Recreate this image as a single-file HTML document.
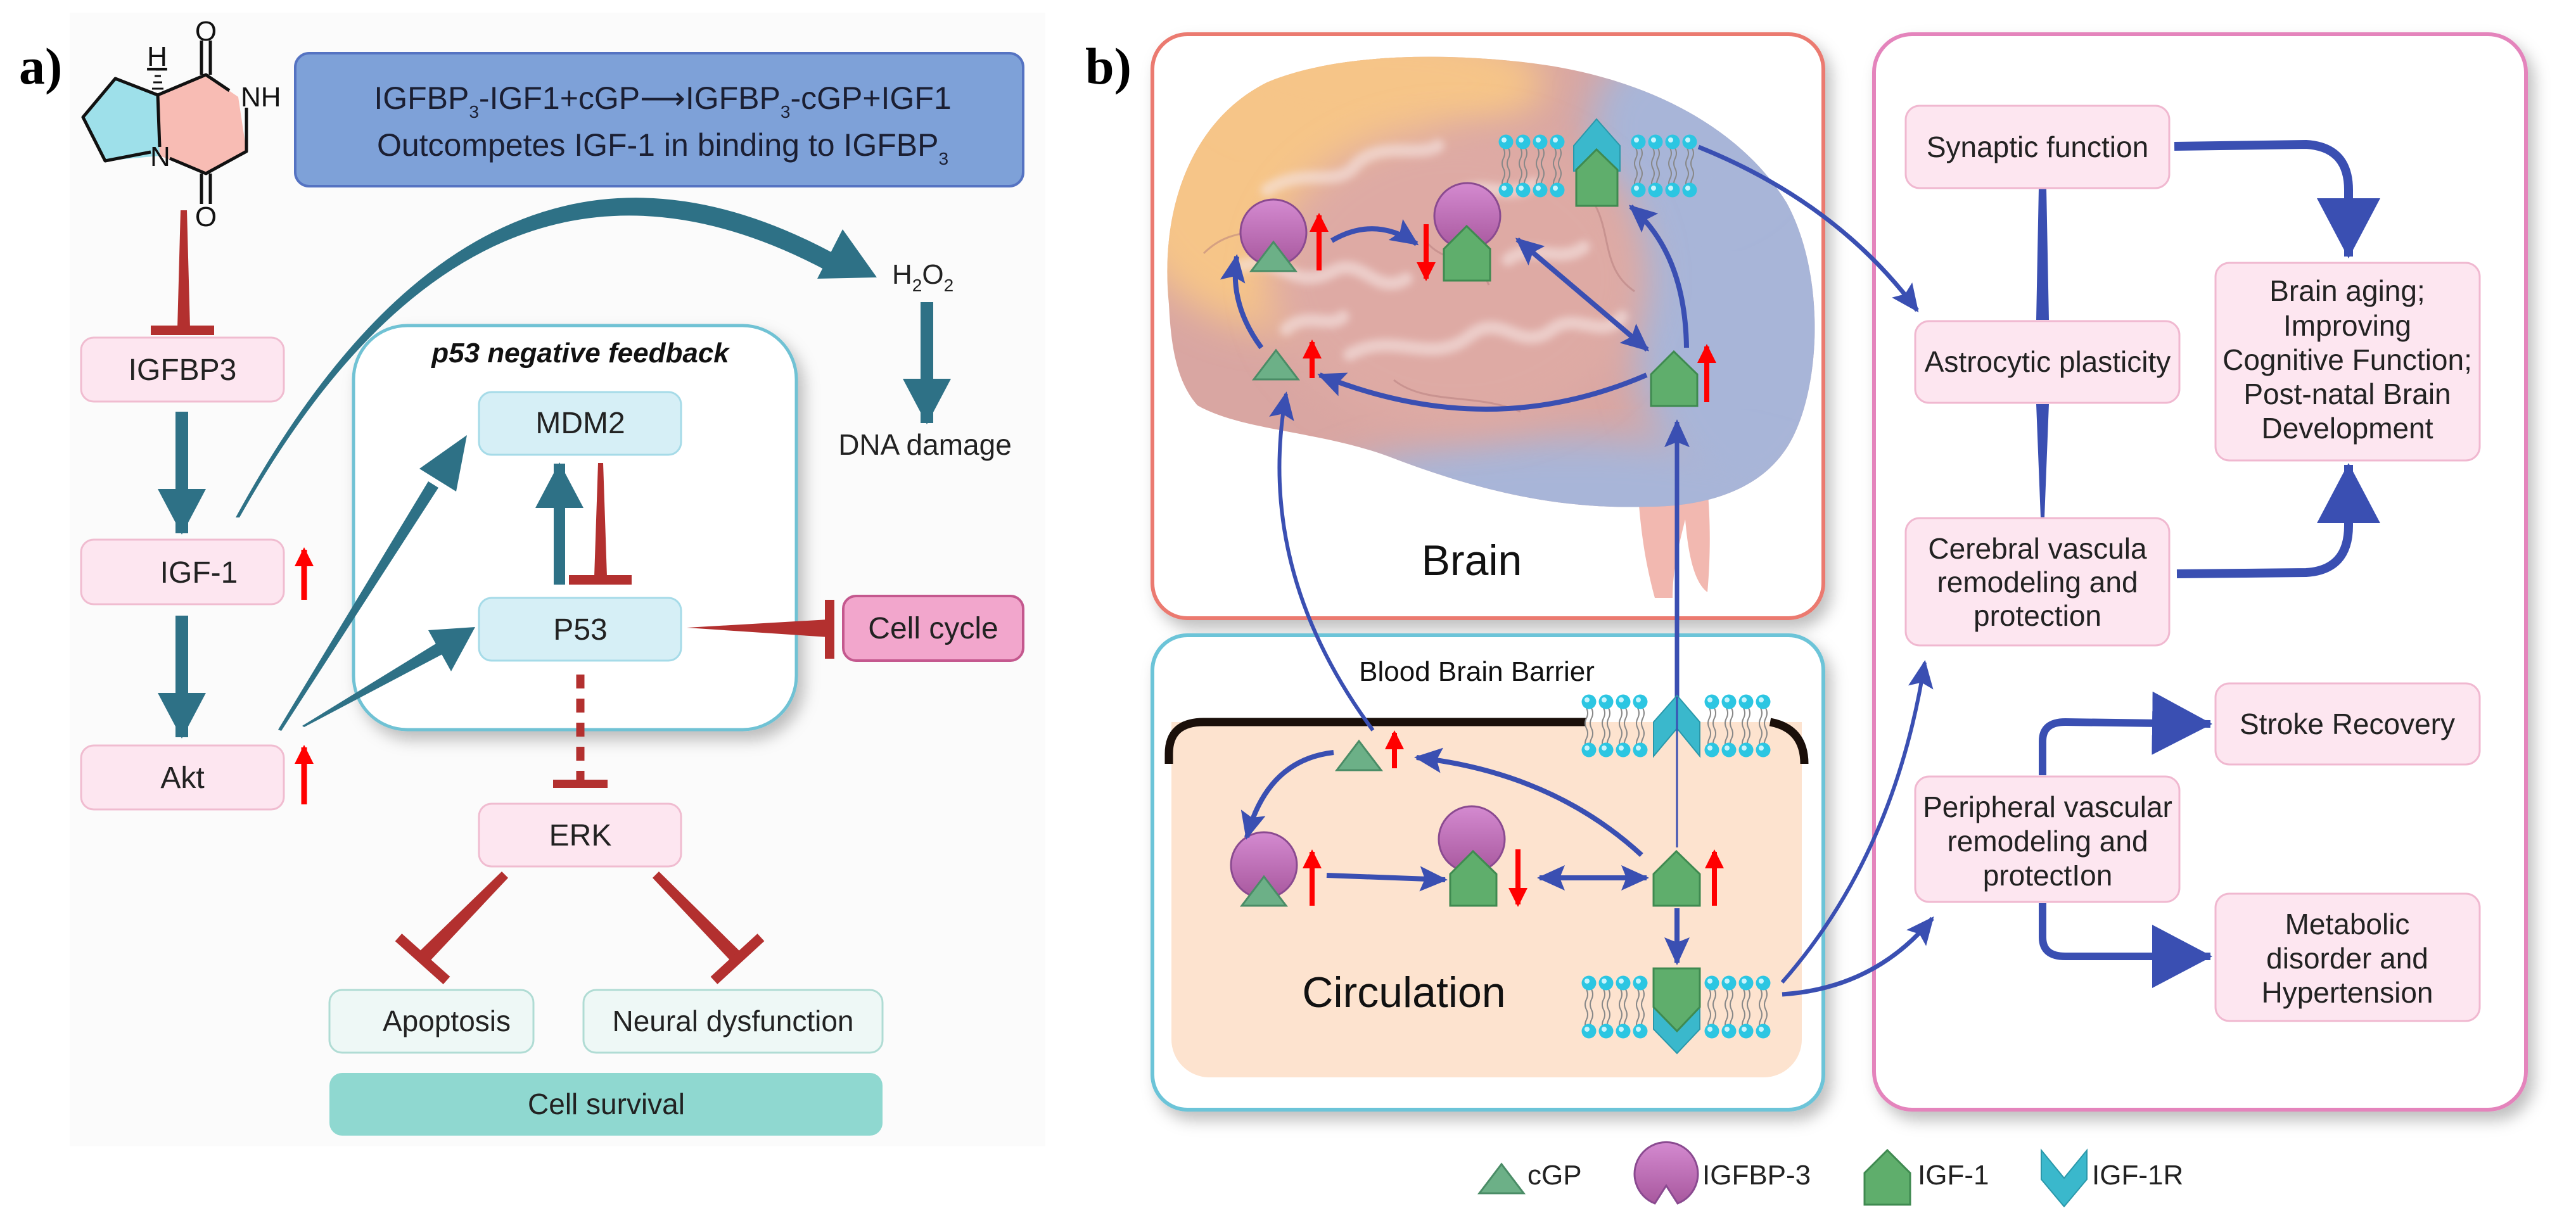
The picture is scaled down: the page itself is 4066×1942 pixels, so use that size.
<!DOCTYPE html>
<html><head><meta charset="utf-8"><style>
html,body{margin:0;padding:0;background:#fff;}
svg{display:block;font-family:"Liberation Sans",Arial,sans-serif;}
.n{font-family:"Liberation Sans Narrow","Liberation Sans",sans-serif;}
</style></head><body>
<svg width="4066" height="1942" viewBox="0 0 4066 1942" xmlns="http://www.w3.org/2000/svg">
<defs>
<filter id="sh" x="-10%" y="-10%" width="125%" height="125%"><feDropShadow dx="10" dy="14" stdDeviation="12" flood-color="#000" flood-opacity="0.25"/></filter>
<filter id="blur" x="-20%" y="-20%" width="140%" height="140%"><feGaussianBlur stdDeviation="30"/></filter>
<filter id="blur2"><feGaussianBlur stdDeviation="6"/></filter>
<marker id="tH" markerUnits="userSpaceOnUse" markerWidth="80" markerHeight="80" viewBox="0 0 80 80" refX="70" refY="40" orient="auto"><path d="M0,2 L72,40 L0,78 Z" fill="#2e7186"/></marker>
<marker id="bH" markerUnits="userSpaceOnUse" markerWidth="44" markerHeight="40" viewBox="0 0 44 40" refX="40" refY="20" orient="auto-start-reverse"><path d="M0,0 L44,20 L0,40 L8,20 Z" fill="#3a4fb2"/></marker>
<marker id="bB" markerUnits="userSpaceOnUse" markerWidth="100" markerHeight="100" viewBox="0 0 100 100" refX="92" refY="50" orient="auto"><path d="M0,0 L95,50 L0,100 Z" fill="#3a4fb2"/></marker>
<marker id="rH" markerUnits="userSpaceOnUse" markerWidth="30" markerHeight="30" viewBox="0 0 30 30" refX="26" refY="15" orient="auto"><path d="M0,0 L30,15 L0,30 Z" fill="#ff0000"/></marker>
<g id="lp"><path d="M-4,10 q4,8 0,16 q-4,8 0,16 q4,8 0,16 q-4,8 0,16 M4,10 q4,8 0,16 q-4,8 0,16 q4,8 0,16 q-4,8 0,16" stroke="#888" stroke-width="2" fill="none"/><circle cx="0" cy="0" r="11.5" fill="#2cc6e2"/><circle cx="-3" cy="-3" r="4" fill="#c8f4fc"/><circle cx="0" cy="76" r="11.5" fill="#2cc6e2"/><circle cx="-3" cy="73" r="4" fill="#c8f4fc"/></g>
<g id="lp4"><use href="#lp" x="0"/><use href="#lp" x="27"/><use href="#lp" x="54"/><use href="#lp" x="81"/></g>
<g id="house"><path d="M0,86 L0,36 L36,0 L73,36 L73,86 Z" fill="#5fae6c" stroke="#3f8a50" stroke-width="3"/></g>
<g id="tri"><path d="M0,46 L35,0 L70,46 Z" fill="#6cb087" stroke="#4a8c66" stroke-width="3"/></g>
<linearGradient id="pg" x1="0" y1="0" x2="0" y2="1"><stop offset="0" stop-color="#d48ad0"/><stop offset="1" stop-color="#a8589e"/></linearGradient>
<clipPath id="bc"><path d="M1845,480 C1830,330 1880,190 2000,130 C2120,80 2300,85 2420,100 C2580,120 2740,190 2820,320 C2880,430 2875,600 2830,690 C2790,770 2700,800 2600,800 C2450,805 2320,770 2190,720 C2080,680 1960,680 1890,640 C1855,600 1848,540 1845,480 Z"/></clipPath>
</defs>

<!-- ============ PANEL A ============ -->
<rect x="110" y="20" width="1540" height="1790" fill="#fbfbfb"/>
<text x="30" y="132" font-family="Liberation Serif,serif" font-weight="bold" font-size="82">a)</text>

<path d="M131,185 L182,124 L249,150 L252,246 L166,254 Z" fill="#9ee0ea"/>
<path d="M249,150 L325,118 L376,153 L389,239 L325,274 L252,246 Z" fill="#f8bcb4"/>
<g stroke="#111" stroke-width="5" fill="none" stroke-linejoin="round">
<path d="M238,240 L166,254 L131,185 L182,124 L249,150 L252,232"/>
<path d="M249,150 L325,118 L362,143 M389,170 L389,239 L325,274 L268,250"/>
<path d="M318,118 L318,64 M332,118 L332,64 M318,274 L318,322 M332,274 L332,322"/>
</g>
<g stroke="#111" stroke-width="3"><line x1="240" y1="140" x2="258" y2="140"/><line x1="242" y1="130" x2="256" y2="130"/><line x1="244" y1="120" x2="254" y2="120"/><line x1="246" y1="110" x2="252" y2="110"/></g>
<g font-size="44" fill="#111"><text x="325" y="64" text-anchor="middle">O</text><text x="325" y="357" text-anchor="middle">O</text><text x="380" y="168">NH</text><text x="237" y="262">N</text><text x="248" y="104" text-anchor="middle" text-decoration="underline">H</text></g>

<rect x="466" y="84" width="1149" height="210" rx="22" fill="#7ea1d8" stroke="#5573c2" stroke-width="4"/>
<text x="1046" y="172" text-anchor="middle" font-size="50" fill="#1b1f33">IGFBP<tspan font-size="28" dy="14">3</tspan><tspan dy="-14">-IGF1+cGP</tspan><tspan>⟶</tspan>IGFBP<tspan font-size="28" dy="14">3</tspan><tspan dy="-14">-cGP+IGF1</tspan></text>
<text x="1046" y="246" text-anchor="middle" font-size="50" fill="#1b1f33">Outcompetes IGF-1 in binding to IGFBP<tspan font-size="28" dy="14">3</tspan></text>

<path d="M372,817 Q760,104 1312,398 L1306,428 Q760,136 378,817 Z" fill="#2e7186"/>
<path d="M1384,438 L1290,440 L1330,362 Z" fill="#2e7186"/>
<text x="1408" y="448" font-size="44" fill="#222">H<tspan font-size="28" dy="12">2</tspan><tspan dy="-12">O</tspan><tspan font-size="28" dy="12">2</tspan></text>
<line x1="1463" y1="477" x2="1463" y2="668" stroke="#2e7186" stroke-width="20" marker-end="url(#tH)"/>
<text x="1460" y="718" text-anchor="middle" font-size="46" fill="#222">DNA damage</text>

<rect x="558" y="514" width="699" height="638" rx="85" fill="#fff" stroke="#70c2d4" stroke-width="5" filter="url(#sh)"/>
<text x="916" y="572" text-anchor="middle" font-size="44" font-weight="bold" font-style="italic" fill="#111">p53 negative feedback</text>
<rect x="756" y="619" width="319" height="99" rx="20" fill="#d6eff6" stroke="#a6dbe8" stroke-width="3"/>
<text x="916" y="684" text-anchor="middle" font-size="48" fill="#222">MDM2</text>
<rect x="756" y="944" width="319" height="99" rx="20" fill="#d6eff6" stroke="#a6dbe8" stroke-width="3"/>
<text x="916" y="1010" text-anchor="middle" font-size="48" fill="#222">P53</text>
<rect x="756" y="1269" width="319" height="99" rx="20" fill="#fde6f0" stroke="#f0bcd0" stroke-width="3"/>
<text x="916" y="1335" text-anchor="middle" font-size="48" fill="#222">ERK</text>

<rect x="128" y="533" width="320" height="101" rx="20" fill="#fde6f0" stroke="#f0bcd0" stroke-width="3"/>
<text x="288" y="600" text-anchor="middle" font-size="48" fill="#222">IGFBP3</text>
<rect x="128" y="852" width="320" height="102" rx="20" fill="#fde6f0" stroke="#f0bcd0" stroke-width="3"/>
<text x="314" y="920" text-anchor="middle" font-size="48" fill="#222">IGF-1</text>
<rect x="128" y="1177" width="320" height="101" rx="20" fill="#fde6f0" stroke="#f0bcd0" stroke-width="3"/>
<text x="288" y="1244" text-anchor="middle" font-size="48" fill="#222">Akt</text>
<line x1="480" y1="947" x2="480" y2="868" stroke="#ff0000" stroke-width="9" marker-end="url(#rH)"/>
<line x1="480" y1="1270" x2="480" y2="1180" stroke="#ff0000" stroke-width="9" marker-end="url(#rH)"/>

<path d="M285,332 L295,332 L300,518 L280,518 Z" fill="#b3302f"/>
<rect x="238" y="514" width="100" height="15" fill="#b3302f"/>
<line x1="287" y1="650" x2="287" y2="842" stroke="#2e7186" stroke-width="20" marker-end="url(#tH)"/>
<line x1="287" y1="972" x2="287" y2="1164" stroke="#2e7186" stroke-width="20" marker-end="url(#tH)"/>
<path d="M439,1152 L676,760 L692,770 L444,1154 Z" fill="#2e7186"/>
<path d="M737,687 L662,740 L720,776 Z" fill="#2e7186"/>
<path d="M477,1146 L690,1015 L700,1032 L480,1148 Z" fill="#2e7186"/>
<path d="M750,990 L676,995 L712,1060 Z" fill="#2e7186"/>
<line x1="883" y1="923" x2="883" y2="732" stroke="#2e7186" stroke-width="18" marker-end="url(#tH)"/>
<path d="M944,731 L952,731 L958,910 L938,910 Z" fill="#b3302f"/>
<rect x="898" y="908" width="99" height="15" fill="#b3302f"/>
<path d="M1084,991 L1308,978 L1308,1006 Z" fill="#b3302f"/>
<rect x="1302" y="947" width="15" height="93" fill="#b3302f"/>
<rect x="1331" y="941" width="284" height="102" rx="20" fill="#f2a6cc" stroke="#c4588e" stroke-width="4"/>
<text x="1473" y="1008" text-anchor="middle" font-size="48" fill="#222">Cell cycle</text>
<line x1="916" y1="1065" x2="916" y2="1232" stroke="#b3302f" stroke-width="13" stroke-dasharray="22,16"/>
<rect x="873" y="1231" width="86" height="13" fill="#b3302f"/>
<path d="M792,1376 L802,1386 L676,1520 L658,1506 Z" fill="#b3302f"/>
<path d="M629,1480 L705,1548" stroke="#b3302f" stroke-width="16"/>
<path d="M1030,1386 L1040,1376 L1172,1506 L1156,1520 Z" fill="#b3302f"/>
<path d="M1127,1548 L1201,1480" stroke="#b3302f" stroke-width="16"/>
<rect x="520" y="1563" width="322" height="99" rx="20" fill="#eef8f6" stroke="#b0dcd4" stroke-width="3"/>
<text x="705" y="1628" text-anchor="middle" font-size="46" fill="#222">Apoptosis</text>
<rect x="921" y="1563" width="472" height="99" rx="20" fill="#eef8f6" stroke="#b0dcd4" stroke-width="3"/>
<text x="1157" y="1628" text-anchor="middle" font-size="46" fill="#222">Neural dysfunction</text>
<rect x="520" y="1694" width="873" height="99" rx="20" fill="#8fd8d0"/>
<text x="957" y="1759" text-anchor="middle" font-size="46" fill="#222">Cell survival</text>

<!-- ============ PANEL B ============ -->
<text x="1713" y="132" font-family="Liberation Serif,serif" font-weight="bold" font-size="82">b)</text>

<rect x="1819" y="54" width="1059" height="922" rx="55" fill="#fff" stroke="#eb7a70" stroke-width="6" filter="url(#sh)"/>
<rect x="2958" y="54" width="1029" height="1698" rx="60" fill="#fff" stroke="#e484bc" stroke-width="6" filter="url(#sh)"/>

<path d="M2585,770 C2590,850 2600,900 2612,944 L2640,944 C2640,900 2650,860 2660,820 C2665,880 2675,920 2695,935 C2700,880 2700,820 2695,770 Z" fill="#f2b8b0"/>
<g clip-path="url(#bc)">
<rect x="1800" y="60" width="1100" height="800" fill="#d9a6a2"/>
<ellipse cx="2020" cy="260" rx="260" ry="260" fill="#f6c588" filter="url(#blur)"/>
<ellipse cx="2180" cy="130" rx="260" ry="90" fill="#f6c588" filter="url(#blur)"/>
<ellipse cx="2760" cy="420" rx="200" ry="380" fill="#a8b5d8" filter="url(#blur)"/>
<ellipse cx="2480" cy="800" rx="420" ry="110" fill="#a8b5d8" filter="url(#blur)"/>
<ellipse cx="2660" cy="200" rx="150" ry="140" fill="#a8b5d8" filter="url(#blur)"/>
<ellipse cx="2300" cy="440" rx="300" ry="240" fill="#deaaa4" filter="url(#blur)"/>
<g stroke="#f6e6e4" stroke-width="20" fill="none" stroke-linecap="round" opacity="0.6" filter="url(#blur2)">
<path d="M2000,300 C2060,260 2110,300 2140,260 C2180,220 2240,250 2270,230"/>
<path d="M1960,420 C2020,400 2040,460 2100,430 C2150,400 2170,470 2220,440"/>
<path d="M2130,560 C2200,520 2260,580 2320,530 C2370,490 2400,560 2450,520 C2490,490 2530,540 2560,500"/>
<path d="M2030,520 C2060,490 2100,520 2120,500"/>
<path d="M2380,410 C2420,380 2460,420 2500,390"/>
<path d="M2300,310 C2340,280 2380,320 2420,290"/>
</g>
<g stroke="#b47c7c" stroke-width="3" fill="none" opacity="0.5">
<path d="M1900,400 C1950,350 2000,380 2050,340 M2200,600 C2250,640 2330,620 2400,650 M2500,300 C2550,350 2520,420 2580,460 M2250,380 C2280,420 2330,400 2350,450"/>
</g>
</g>
<text x="2323" y="908" text-anchor="middle" font-size="68" fill="#111">Brain</text>

<use href="#lp4" x="2377" y="224"/>
<use href="#lp4" x="2586" y="224"/>
<path d="M2484,270 L2484,230 L2520,188 L2557,230 L2557,270 Z" fill="#3ab8cc" stroke="#2a98aa" stroke-width="2"/>
<path d="M2488,325 L2488,268 L2520,236 L2553,268 L2553,325 Z" fill="#5fae6c" stroke="#3f8a50" stroke-width="3"/>

<circle cx="2010" cy="367" r="52" fill="url(#pg)" stroke="#8a4a90" stroke-width="3"/>
<use href="#tri" x="1975" y="382"/>
<circle cx="2316" cy="341" r="52" fill="url(#pg)" stroke="#8a4a90" stroke-width="3"/>
<use href="#house" x="2279" y="357"/>
<use href="#house" x="2606" y="555"/>
<use href="#tri" x="1979" y="553"/>
<line x1="2082" y1="427" x2="2082" y2="340" stroke="#ff0000" stroke-width="8" marker-end="url(#rH)"/>
<line x1="2251" y1="354" x2="2251" y2="440" stroke="#ff0000" stroke-width="8" marker-end="url(#rH)"/>
<line x1="2694" y1="635" x2="2694" y2="547" stroke="#ff0000" stroke-width="8" marker-end="url(#rH)"/>
<line x1="2071" y1="597" x2="2071" y2="540" stroke="#ff0000" stroke-width="8" marker-end="url(#rH)"/>

<rect x="1819" y="1003" width="1059" height="749" rx="55" fill="#fff" stroke="#6cc4d8" stroke-width="6" filter="url(#sh)"/>
<rect x="1849" y="1140" width="995" height="561" rx="60" fill="#fde3cf"/>
<rect x="1849" y="1140" width="995" height="70" fill="#fde3cf"/>
<path d="M1845,1206 L1845,1190 Q1845,1140 1900,1140 L2503,1140" stroke="#1a0f0a" stroke-width="13" fill="none"/>
<path d="M2794,1140 Q2848,1150 2848,1206" stroke="#1a0f0a" stroke-width="13" fill="none"/>
<text x="2331" y="1075" text-anchor="middle" font-size="44" fill="#111">Blood Brain Barrier</text>

<g stroke="#3a4fb2" fill="none" stroke-width="8">
<path d="M2102,380 Q2170,340 2236,385" marker-end="url(#bH)"/>
<path d="M2395,378 L2600,552" marker-start="url(#bH)" marker-end="url(#bH)"/>
<path d="M2599,592 Q2350,700 2083,592" marker-end="url(#bH)"/>
<path d="M1991,549 Q1940,480 1952,405" marker-end="url(#bH)"/>
<path d="M2662,549 Q2660,400 2574,326" marker-end="url(#bH)"/>
<path d="M2681,232 Q2900,320 3026,490" stroke-width="7" marker-end="url(#bH)"/>
<path d="M2167,1153 Q1980,900 2030,622" stroke-width="6" marker-end="url(#bH)"/>
<path d="M2647,1100 L2647,666" stroke-width="7" marker-end="url(#bH)"/>
</g>

<use href="#lp4" x="2508" y="1108"/>
<use href="#lp4" x="2702" y="1108"/>
<path d="M2647,1098 L2683,1140 L2683,1194 L2647,1150 L2610,1194 L2610,1140 Z" fill="#3ab8cc" stroke="#2a98aa" stroke-width="2"/>
<line x1="2647" y1="1338" x2="2647" y2="1100" stroke="#3a4fb2" stroke-width="3"/>

<use href="#tri" x="2110" y="1170"/>
<line x1="2201" y1="1213" x2="2201" y2="1157" stroke="#ff0000" stroke-width="8" marker-end="url(#rH)"/>
<circle cx="1995" cy="1366" r="52" fill="url(#pg)" stroke="#8a4a90" stroke-width="3"/>
<use href="#tri" x="1960" y="1384"/>
<line x1="2071" y1="1430" x2="2071" y2="1345" stroke="#ff0000" stroke-width="8" marker-end="url(#rH)"/>
<circle cx="2323" cy="1325" r="52" fill="url(#pg)" stroke="#8a4a90" stroke-width="3"/>
<use href="#house" x="2289" y="1344"/>
<line x1="2396" y1="1341" x2="2396" y2="1428" stroke="#ff0000" stroke-width="8" marker-end="url(#rH)"/>
<use href="#house" x="2610" y="1344"/>
<line x1="2706" y1="1430" x2="2706" y2="1345" stroke="#ff0000" stroke-width="8" marker-end="url(#rH)"/>
<g stroke="#3a4fb2" fill="none" stroke-width="8">
<path d="M2591,1350 Q2450,1220 2236,1196" marker-end="url(#bH)"/>
<path d="M2105,1188 Q2000,1200 1968,1322" marker-end="url(#bH)"/>
<path d="M2094,1382 L2281,1389" marker-end="url(#bH)"/>
<path d="M2430,1386 L2599,1386" marker-start="url(#bH)" marker-end="url(#bH)"/>
<path d="M2647,1434 L2647,1520" marker-end="url(#bH)"/>
<path d="M2813,1551 Q2990,1350 3038,1046" stroke-width="6" marker-end="url(#bH)"/>
<path d="M2813,1570 Q2960,1560 3050,1450" stroke-width="7" marker-end="url(#bH)"/>
</g>
<use href="#lp4" x="2508" y="1552"/>
<use href="#lp4" x="2702" y="1552"/>
<path d="M2610,1585 L2647,1625 L2683,1585 L2683,1625 L2647,1663 L2610,1625 Z" fill="#3ab8cc" stroke="#2a98aa" stroke-width="2"/>
<path d="M2610,1529 L2683,1529 L2683,1590 L2647,1628 L2610,1590 Z" fill="#5fae6c" stroke="#3f8a50" stroke-width="3"/>
<text x="2216" y="1590" text-anchor="middle" font-size="68" fill="#111">Circulation</text>

<!-- right panel contents -->
<path d="M3218,297 L3230,297 L3234,505 L3214,505 Z" fill="#3a4fb2"/>
<path d="M3214,638 L3234,638 L3227,817 L3221,817 Z" fill="#3a4fb2"/>
<g fill="#fde6f0" stroke="#f0b8d0" stroke-width="3">
<rect x="3008" y="167" width="416" height="130" rx="22"/>
<rect x="3023" y="507" width="417" height="129" rx="22"/>
<rect x="3008" y="818" width="416" height="201" rx="22"/>
<rect x="3497" y="415" width="417" height="312" rx="22"/>
<rect x="3497" y="1079" width="417" height="128" rx="22"/>
<rect x="3023" y="1226" width="417" height="198" rx="22"/>
<rect x="3497" y="1411" width="417" height="201" rx="22"/>
</g>
<g class="n" font-size="46" fill="#222" text-anchor="middle" dominant-baseline="central">
<text x="3216" y="232">Synaptic function</text>
<text x="3232" y="571">Astrocytic plasticity</text>
<text x="3216" y="866">Cerebral vascula</text>
<text x="3216" y="919">remodeling and</text>
<text x="3216" y="972">protection</text>
<text x="3705" y="459">Brain aging;</text>
<text x="3705" y="514">Improving</text>
<text x="3705" y="568">Cognitive Function;</text>
<text x="3705" y="622">Post-natal Brain</text>
<text x="3705" y="676">Development</text>
<text x="3705" y="1143">Stroke Recovery</text>
<text x="3232" y="1274">Peripheral vascular</text>
<text x="3232" y="1328">remodeling and</text>
<text x="3232" y="1382">protectIon</text>
<text x="3705" y="1459">Metabolic</text>
<text x="3705" y="1513">disorder and</text>
<text x="3705" y="1567">Hypertension</text>
</g>
<g stroke="#3a4fb2" fill="none" stroke-width="18">
<path d="M3432,231 L3640,228 Q3707,232 3707,300 L3707,405" stroke-width="14" marker-end="url(#bB)"/>
<path d="M3436,906 L3640,904 Q3707,900 3707,830 L3707,734" stroke-width="14" marker-end="url(#bB)"/>
<path d="M3224,1224 L3224,1170 Q3224,1140 3260,1140 L3489,1143" stroke-width="12" marker-end="url(#bB)"/>
<path d="M3224,1426 L3224,1480 Q3224,1510 3260,1510 L3489,1510" stroke-width="12" marker-end="url(#bB)"/>
</g>

<!-- legend -->
<use href="#tri" x="2335" y="1838"/>
<text x="2411" y="1870" font-size="44" fill="#222">cGP</text>
<path d="M2612,1900 A50,50 0 1 1 2648,1900 L2630,1872 Z" fill="url(#pg)" stroke="#8a4a90" stroke-width="3"/>
<text x="2687" y="1870" font-size="44" fill="#222">IGFBP-3</text>
<path d="M2943,1902 L2943,1852 L2979,1816 L3015,1852 L3015,1902 Z" fill="#5fae6c" stroke="#3f8a50" stroke-width="3"/>
<text x="3027" y="1870" font-size="44" fill="#222">IGF-1</text>
<path d="M3222,1816 L3258,1860 L3294,1816 L3294,1862 L3258,1905 L3222,1862 Z" fill="#3ab8cc" stroke="#2a98aa" stroke-width="2"/>
<text x="3302" y="1870" font-size="44" fill="#222">IGF-1R</text>
</svg>
</body></html>
